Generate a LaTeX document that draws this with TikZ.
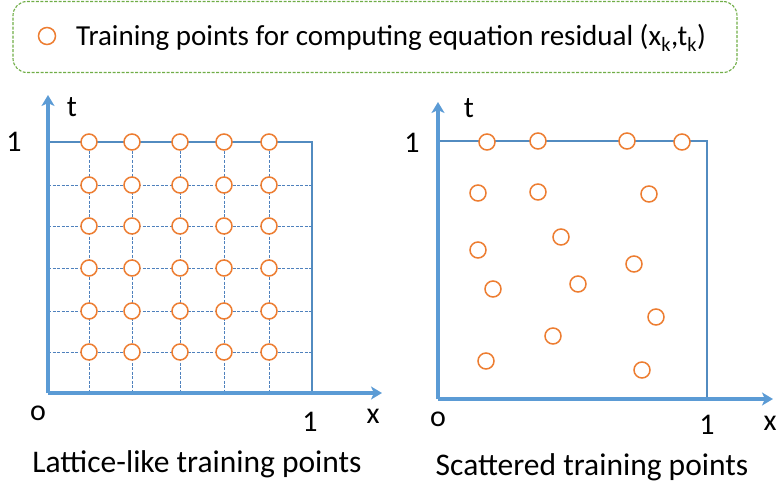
\documentclass[tikz,border=0pt]{standalone}
\usepackage{fontspec}
\setmainfont{Carlito}
\usetikzlibrary{arrows.meta}
\definecolor{axblue}{HTML}{5B9BD5}
\definecolor{gridblue}{HTML}{4F81BD}
\definecolor{ptorange}{HTML}{ED7D31}
\definecolor{legreen}{HTML}{70AD47}
\begin{document}
\begin{tikzpicture}[x=1pt,y=-1pt,
  axis/.style={draw=axblue,line width=3.2pt,-{Stealth[length=11pt,width=13pt,inset=3pt]}},
  boxline/.style={draw=axblue!90!black,line width=1.4pt},
  gridline/.style={draw=gridblue,line width=0.9pt,dash pattern=on 3pt off 1.5pt},
  pt/.style={circle,draw=ptorange,fill=white,line width=1.5pt,minimum size=16pt,inner sep=0pt},
  lbl/.style={font=\fontsize{30}{34}\selectfont,inner sep=0pt},
  captext/.style={font=\fontsize{31.5}{36}\selectfont,inner sep=0pt},
  legendbox/.style={draw=legreen,line width=1.1pt,dash pattern=on 3pt off 1.5pt,rounded corners=14pt}]
\useasboundingbox (0,0) rectangle (779,484);

% legend
\node[legendbox,minimum width=724pt,minimum height=71pt] (leg) at (375,37) {};
\node[pt,minimum size=17pt] (legpt) at (47,36) {};
\node[anchor=west,font=\fontsize{29}{34}\selectfont,inner sep=0pt] (legtxt) at (76,38) {Training points for computing equation residual (x\textsubscript{k},t\textsubscript{k})};

% ---------- left panel ----------
\coordinate (LO) at (48,393);
\coordinate (LT) at (48,95);
\coordinate (LX) at (382,393);
\coordinate (LTL) at (48,142);
\coordinate (LTR) at (312,142);
\coordinate (LBR) at (312,393);
% dashed grid
\foreach \y in {185,226,268,311,352}{
  \coordinate (hl\y) at (48,\y);
  \coordinate (hr\y) at (312,\y);
  \draw[gridline] (hl\y) -- (hr\y);
}
\foreach \x in {89,132,180,224,269}{
  \coordinate (vt\x) at (\x,142);
  \coordinate (vb\x) at (\x,393);
  \draw[gridline] (vt\x) -- (vb\x);
}
\draw[boxline] (LTL) -- (LTR) -- (LBR);
\draw[axis] (LO) -- (LT);
\draw[axis] (LO) -- (LX);
\foreach \x [count=\i] in {89,132,180,224,269}{
  \foreach \y [count=\j] in {142,185,226,268,311,352}{
    \node[pt] (g\i\j) at (\x,\y) {};
  }
}
\node[lbl] (lt) at (72,107) {t};
\node[lbl] (l1y) at (14,142) {1};
\node[lbl] (lo) at (38,413) {o};
\node[lbl] (l1x) at (310,422) {1};
\node[lbl] (lx) at (373,416) {x};
\node[captext] (lcap) at (197,464) {Lattice-like training points};

% ---------- right panel ----------
\coordinate (RO) at (438,399);
\coordinate (RT) at (438,102);
\coordinate (RX) at (773,399);
\coordinate (RTL) at (438,141);
\coordinate (RTR) at (707,141);
\coordinate (RBR) at (707,399);
\draw[boxline] (RTL) -- (RTR) -- (RBR);
\draw[axis] (RO) -- (RT);
\draw[axis] (RO) -- (RX);
\foreach \x/\y [count=\i] in {487/142,538/141,627/141,682/142,
  478/193,538/192,649/194,561/237,478/250,634/264,
  493/289,578/284,656/317,553/336,486/361,642/370}{
  \node[pt] (s\i) at (\x,\y) {};
}
\node[lbl] (rt) at (469,108) {t};
\node[lbl] (r1y) at (412,143) {1};
\node[lbl] (ro) at (438,419) {o};
\node[lbl] (r1x) at (707,425) {1};
\node[lbl] (rx) at (770,423) {x};
\node[captext] (rcap) at (592,467) {Scattered training points};
\end{tikzpicture}
\end{document}
